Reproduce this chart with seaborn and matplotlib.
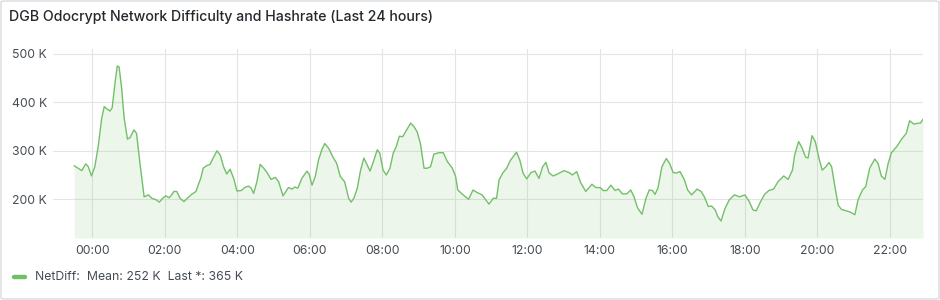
import matplotlib
matplotlib.use("Agg")
import matplotlib.pyplot as plt
import seaborn as sns
import pandas as pd
from matplotlib.patches import FancyBboxPatch
from matplotlib.lines import Line2D

# ---- data (hours relative to 00:00, NetDiff in thousands) ----
hours = [
    -0.50, -0.39, -0.29, -0.18, -0.11, -0.02, 0.07, 0.17, 0.26, 0.33, 0.41, 0.49, 0.55, 0.63, 0.69, 0.74,
    0.81, 0.88, 0.97, 1.04, 1.15, 1.22, 1.32, 1.43, 1.55, 1.64, 1.76, 1.85, 1.94, 2.03, 2.12, 2.19,
    2.25, 2.33, 2.42, 2.53, 2.62, 2.74, 2.86, 2.92, 2.99, 3.06, 3.15, 3.25, 3.32,
    3.44, 3.53, 3.62, 3.71, 3.80, 3.90, 3.99, 4.11, 4.22, 4.31, 4.38, 4.45, 4.54, 4.63, 4.73, 4.82,
    4.93, 5.05, 5.14, 5.26, 5.34, 5.41, 5.51, 5.58, 5.67, 5.78, 5.92, 5.98, 6.06, 6.15, 6.24, 6.33,
    6.41, 6.52, 6.63, 6.74, 6.84, 6.96, 7.07, 7.14,
    7.22, 7.31, 7.40, 7.49, 7.58, 7.66, 7.75, 7.86, 7.93, 8.02, 8.11, 8.21, 8.30, 8.38, 8.47, 8.56,
    8.67, 8.78, 8.87, 8.96, 9.05, 9.15, 9.24, 9.33, 9.42, 9.56, 9.68, 9.79, 9.93, 10.02, 10.08, 10.20,
    10.29, 10.38, 10.50, 10.61, 10.75, 10.85, 10.94, 11.06, 11.15,
    11.22, 11.32, 11.43, 11.52, 11.61, 11.70, 11.79, 11.88, 11.98, 12.10, 12.21, 12.32, 12.42, 12.51,
    12.60, 12.71, 12.83, 13.01, 13.15, 13.24, 13.36, 13.47, 13.61, 13.78, 13.89, 14.01, 14.09, 14.19,
    14.30, 14.42, 14.51, 14.62, 14.74, 14.85, 14.94, 15.04,
    15.16, 15.27, 15.36, 15.45, 15.52, 15.60, 15.71, 15.83, 15.92, 16.02, 16.11, 16.21, 16.33, 16.42,
    16.53, 16.68, 16.79, 16.88, 16.99, 17.08, 17.18, 17.25, 17.34, 17.45, 17.57, 17.71, 17.85, 18.00,
    18.12, 18.22, 18.31, 18.43, 18.54, 18.66, 18.79, 18.91,
    19.07, 19.19, 19.31, 19.37, 19.48, 19.58, 19.67, 19.74, 19.85, 19.94, 20.04, 20.13, 20.23, 20.32,
    20.39, 20.48, 20.57, 20.66, 20.80, 20.89, 21.03, 21.12, 21.24, 21.33, 21.44, 21.58, 21.67, 21.76,
    21.86, 21.95, 22.04, 22.18, 22.32, 22.45, 22.54, 22.66, 22.78, 22.84, 22.91,
]
netdiff_k = [
    269, 264, 259, 273, 267, 248, 267, 312, 367, 391, 386, 382, 389, 442, 475, 473,
    429, 367, 324, 327, 343, 336, 271, 205, 209, 202, 199, 194, 202, 207, 203, 209,
    216, 216, 202, 195, 202, 210, 216, 229, 243, 264, 269, 272, 283,
    300, 291, 267, 252, 262, 243, 217, 218, 225, 227, 223, 212, 236, 272, 264, 255,
    241, 245, 236, 207, 216, 224, 221, 225, 223, 243, 258, 252, 229, 247, 281, 302,
    315, 305, 288, 274, 247, 236, 202, 194,
    203, 223, 260, 285, 271, 258, 277, 302, 295, 260, 250, 264, 295, 308, 330, 329,
    343, 357, 350, 339, 315, 264, 264, 267, 293, 296, 296, 278, 264, 247, 219, 211,
    205, 200, 219, 214, 209, 199, 190, 202, 202,
    240, 254, 264, 279, 288, 297, 281, 254, 242, 255, 258, 243, 267, 276,
    254, 248, 252, 259, 255, 250, 257, 234, 216, 231, 224, 224, 218, 218,
    229, 218, 221, 211, 211, 219, 205, 182,
    169, 202, 219, 218, 210, 223, 267, 284, 274, 255, 254, 257, 240, 219,
    209, 221, 216, 205, 185, 186, 178, 164, 155, 181, 199, 209, 205, 209,
    195, 178, 176, 195, 210, 218, 221, 236,
    248, 241, 260, 291, 319, 305, 287, 285, 331, 319, 285, 260, 267, 276,
    267, 226, 188, 179, 176, 174, 168, 199, 219, 226, 264, 283, 274, 248,
    241, 274, 296, 308, 324, 336, 362, 355, 357, 357, 365,
]
x_ticks = [0, 2, 4, 6, 8, 10, 12, 14, 16, 18, 20, 22]
x_labels = ["00:00", "02:00", "04:00", "06:00", "08:00", "10:00",
            "12:00", "14:00", "16:00", "18:00", "20:00", "22:00"]
y_ticks = [200, 300, 400, 500]
y_labels = ["200 K", "300 K", "400 K", "500 K"]
title = "DGB Odocrypt Network Difficulty and Hashrate (Last 24 hours)"
legend_text = "NetDiff:  Mean: 252 K  Last *: 365 K"

df = pd.DataFrame({"hour": hours, "NetDiff": netdiff_k})

# ---- style ----
sns.set_theme(style="white")
plt.rcParams["font.family"] = ["Inter", "DejaVu Sans"]

GREEN = "#73BF69"
GRID = "#e4e4e4"
TXT = "#24292e"
TICK = "#464c54"

W, H = 940, 300
fig = plt.figure(figsize=(W / 100, H / 100), dpi=100)
fig.patch.set_facecolor("white")

# panel border
fig.add_artist(FancyBboxPatch((1.0 / W, 1.0 / H), (W - 2.0) / W, (H - 2.0) / H,
                              boxstyle="round,pad=0,rounding_size=0.004",
                              transform=fig.transFigure, facecolor="none",
                              edgecolor="#d8dadd", linewidth=1.0))

left, right, top, bottom = 53, 923, 49, 238
ax = fig.add_axes([left / W, 1 - bottom / H, (right - left) / W, (bottom - top) / H])
ax.set_facecolor("white")

sns.lineplot(data=df, x="hour", y="NetDiff", ax=ax, color=GREEN, linewidth=1.0,
             legend=False, errorbar=None)
ymin, ymax = 120, 510
ax.fill_between(df["hour"], df["NetDiff"], ymin, color=GREEN, alpha=0.13, linewidth=0)

ax.set_xlim(-1.083, 22.91)
ax.set_ylim(ymin, ymax)
ax.set_xticks(x_ticks)
ax.set_xticklabels(x_labels)
ax.set_yticks(y_ticks)
ax.set_yticklabels(y_labels)
ax.set_xlabel("")
ax.set_ylabel("")
ax.grid(True, color=GRID, linewidth=0.8)
ax.set_axisbelow(True)
for s in ax.spines.values():
    s.set_visible(False)
ax.tick_params(axis="x", length=0, pad=5, labelsize=8.8, labelcolor=TICK)
ax.tick_params(axis="y", length=0, pad=4.5, labelsize=8.8, labelcolor=TICK)

# title
fig.text(9 / W, 1 - 17 / H, title, fontsize=10.2, fontweight="medium",
         color=TXT, ha="left", va="center")

# legend
fig.add_artist(Line2D([14 / W, 25 / W], [1 - 277 / H, 1 - 277 / H], transform=fig.transFigure,
                      color=GREEN, linewidth=3.2, solid_capstyle="round"))
fig.text(35 / W, 1 - 277 / H, legend_text, fontsize=8.8, color=TICK,
         ha="left", va="center")

fig.savefig("out.png", dpi=100, facecolor="white")
